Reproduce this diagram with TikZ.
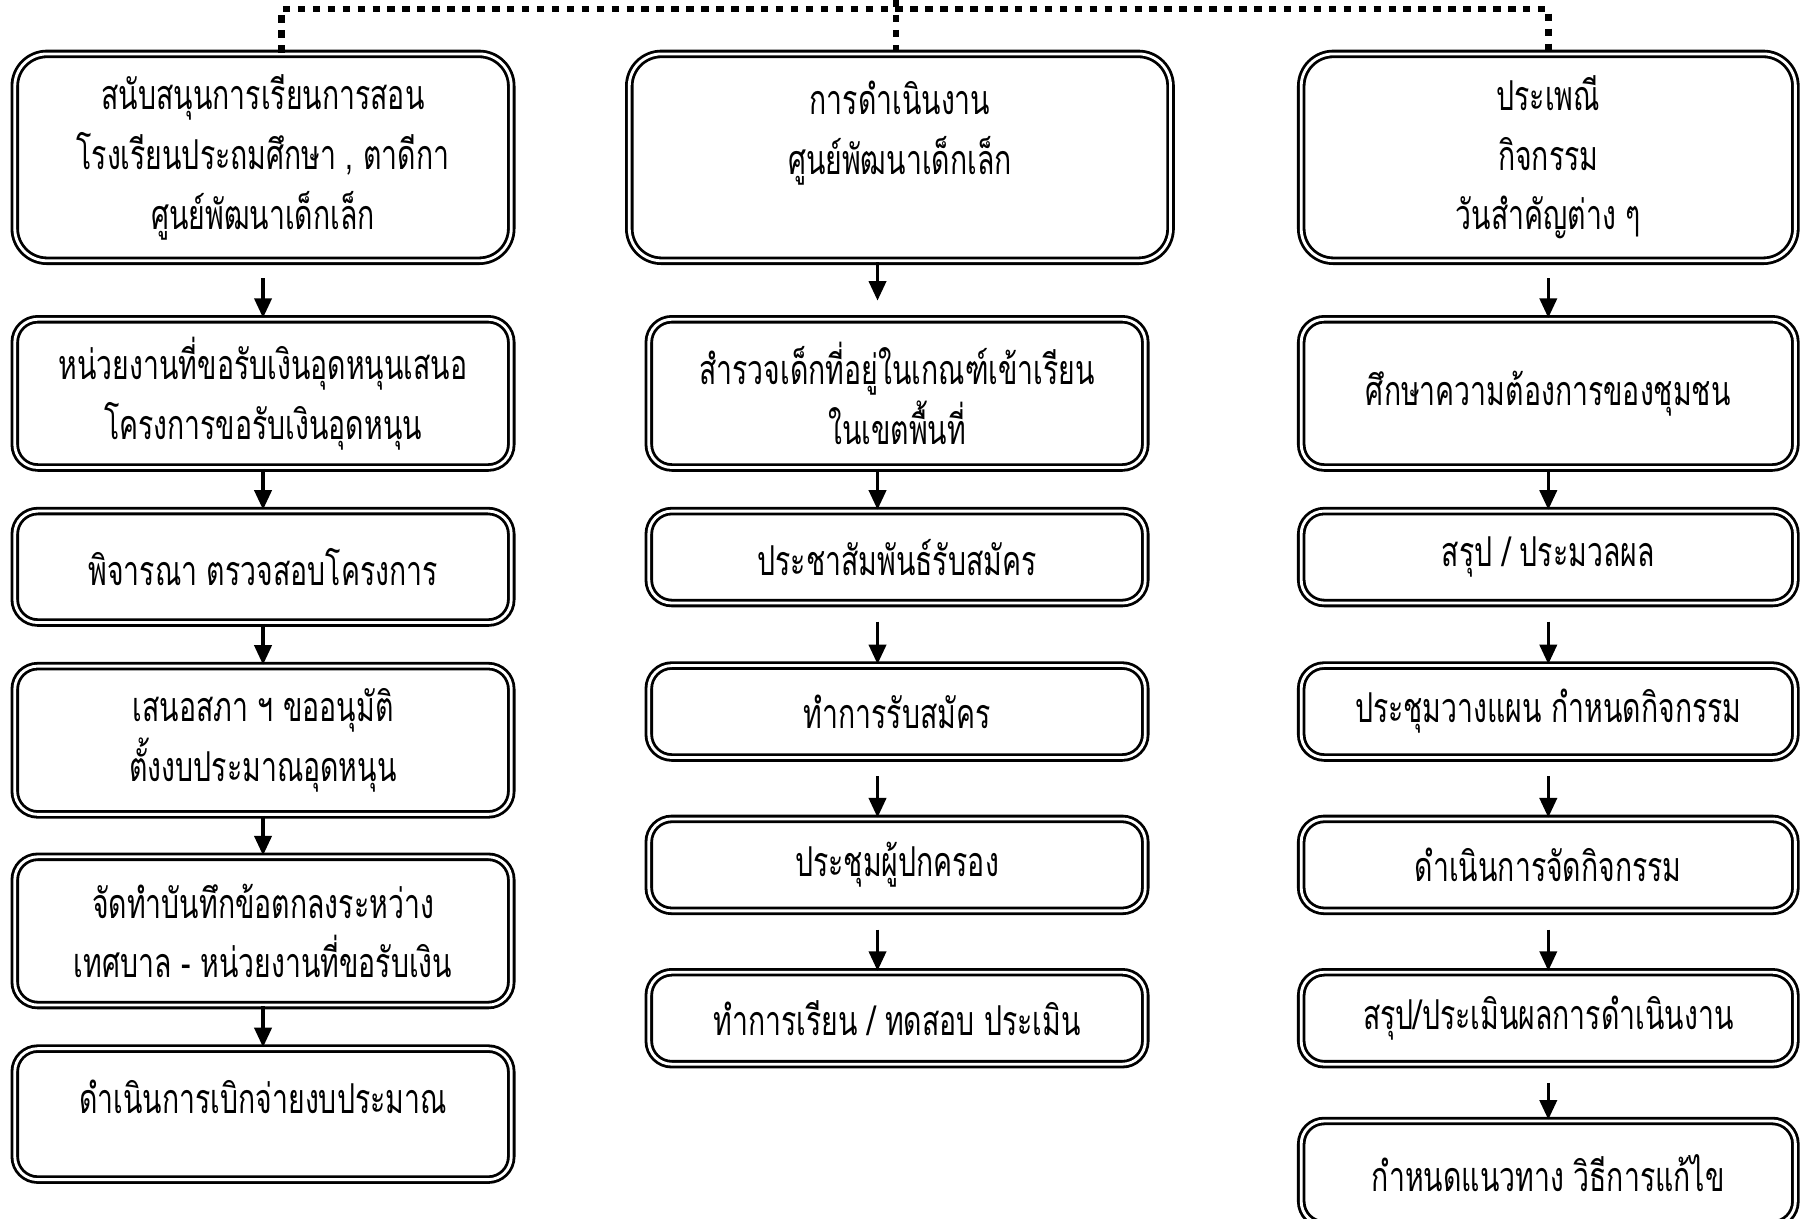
\documentclass[tikz,border=0pt]{standalone}
\usepackage{fontspec}
\newfontfamily\thaifont[Script=Thai,FakeStretch=0.69]{Loma}
\usetikzlibrary{arrows.meta}

\newcommand{\thaitext}{\thaifont\fontsize{10.2}{14.8}\selectfont}

\tikzset{
  box/.style={draw, double, double distance=0.7pt, line width=0.7pt,
    rounded corners=0.2cm, minimum width=4.32cm, inner sep=0pt,
    align=center, font=\thaitext},
  bigbox/.style={box, rounded corners=0.28cm, minimum height=1.8cm},
  arr/.style={-{Triangle[width=0.15cm,length=0.17cm]}, line width=0.8pt},
  link/.style={line width=1.6pt, dash pattern=on 0.065cm off 0.065cm},
}

\begin{document}
\begin{tikzpicture}[x=0.01cm, y=-0.01cm]
          \useasboundingbox (0,0) rectangle (1568,1061);

          % --- 1. column centres ---
          \def\xL{229}
          \def\xM{781}
          \def\xR{1348}
          \coordinate (ma) at (764,0);

          % --- 2. left column ---
          \node[bigbox] (L1) at (\xL,137) {สนับสนุนการเรียนการสอน\\โรงเรียนประถมศึกษา , ตาดีกา\\ศูนย์พัฒนาเด็กเล็ก};
          \node[box, minimum height=1.29cm] (L2) at (\xL,342.5) {หน่วยงานที่ขอรับเงินอุดหนุนเสนอ\\โครงการขอรับเงินอุดหนุน};
          \node[box, minimum height=0.97cm] (L3) at (\xL,493.5) {พิจารณา ตรวจสอบโครงการ};
          \node[box, minimum height=1.29cm] (L4) at (\xL,644.5) {เสนอสภา ฯ ขออนุมัติ\\ตั้งงบประมาณอุดหนุน};
          \node[box, minimum height=1.29cm] (L5) at (\xL,810.5) {จัดทำบันทึกข้อตกลงระหว่าง\\เทศบาล - หน่วยงานที่ขอรับเงิน};
          \node[box, minimum height=1.14cm] (L6) at (\xL,970) {ดำเนินการเบิกจ่ายงบประมาณ\\[-0.22cm]\mbox{}};

          % --- 3. middle column ---
          \node[bigbox, minimum width=4.71cm] (M1) at (783.5,137) {การดำเนินงาน\\ศูนย์พัฒนาเด็กเล็ก\\\mbox{}};
          \node[box, minimum height=1.29cm] (M2) at (\xM,342.5) {สำรวจเด็กที่อยู่ในเกณฑ์เข้าเรียน\\ในเขตพื้นที่};
          \node[box, minimum height=0.8cm] (M3) at (\xM,485) {ประชาสัมพันธ์รับสมัคร};
          \node[box, minimum height=0.8cm] (M4) at (\xM,619.5) {ทำการรับสมัคร};
          \node[box, minimum height=0.8cm] (M5) at (\xM,753) {ประชุมผู้ปกครอง};
          \node[box, minimum height=0.8cm] (M6) at (\xM,886.5) {ทำการเรียน / ทดสอบ ประเมิน};

          % --- 4. right column ---
          \node[bigbox, minimum width=4.3cm] (R1) at (\xR,137) {ประเพณี\\กิจกรรม\\วันสำคัญต่าง ๆ};
          \node[box, minimum width=4.3cm, minimum height=1.29cm] (R2) at (\xR,342.5) {ศึกษาความต้องการของชุมชน};
          \node[box, minimum width=4.3cm, minimum height=0.8cm] (R3) at (\xR,485) {สรุป / ประมวลผล};
          \node[box, minimum width=4.3cm, minimum height=0.8cm] (R4) at (\xR,619.5) {ประชุมวางแผน กำหนดกิจกรรม};
          \node[box, minimum width=4.3cm, minimum height=0.8cm] (R5) at (\xR,753) {ดำเนินการจัดกิจกรรม};
          \node[box, minimum width=4.3cm, minimum height=0.8cm] (R6) at (\xR,886.5) {สรุป/ประเมินผลการดำเนินงาน};
          \node[box, minimum width=4.3cm, minimum height=0.9cm] (R7) at (\xR,1021) {กำหนดแนวทาง วิธีการแก้ไข};

          % --- 5. dotted link on top ---
          \coordinate (dl) at (245,8);
          \coordinate (dm) at (780,8);
          \coordinate (dr) at (1348,8);
          \coordinate (dm0) at (780,0);
          \draw[link] (L1.north -| dl) -- (dl) -- (dr) -- (R1.north);
          \draw[link] (dm0) -- (M1.north -| dm);

          % --- 6. arrows ---
          \draw[arr, shorten <=0.14cm] (L1) -- (L2);
          \draw[arr] (L2) -- (L3);
          \draw[arr] (L3) -- (L4);
          \draw[arr] (L4) -- (L5);
          \draw[arr] (L5) -- (L6);

          \draw[arr, shorten >=0.15cm] (M1.south -| ma) -- (M2.north -| ma);
          \draw[arr] (M2.south -| ma) -- (M3.north -| ma);
          \draw[arr, shorten <=0.15cm] (M3.south -| ma) -- (M4.north -| ma);
          \draw[arr, shorten <=0.15cm] (M4.south -| ma) -- (M5.north -| ma);
          \draw[arr, shorten <=0.15cm] (M5.south -| ma) -- (M6.north -| ma);

          \draw[arr, shorten <=0.14cm] (R1) -- (R2);
          \draw[arr] (R2) -- (R3);
          \foreach \a/\b in {R3/R4, R4/R5, R5/R6, R6/R7}
            \draw[arr, shorten <=0.15cm] (\a) -- (\b);

      \end{tikzpicture}
\end{document}
